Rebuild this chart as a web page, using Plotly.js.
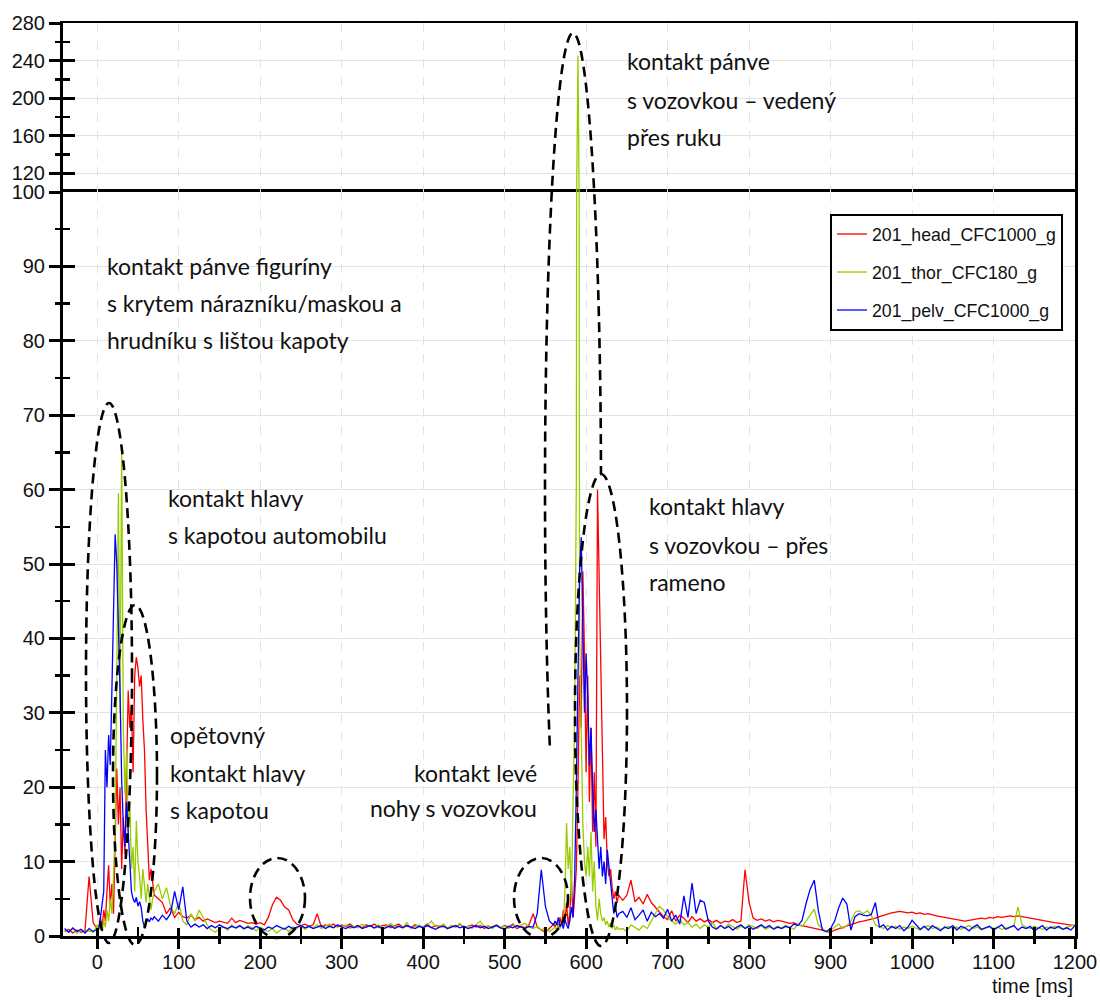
<!DOCTYPE html>
<html>
<head>
<meta charset="utf-8">
<script src="https://cdn.plot.ly/plotly-3.0.1.min.js"></script>
<style>html,body{margin:0;padding:0;background:#fff;}#chart{width:1100px;height:1001px;}</style>
</head>
<body>
<div id="chart"></div>
<script>
// ---------------- DATA ----------------
const timeMs = [
  -40,-35,-30,-25,-20,-15,-10,-5,
  0,2,4,6,8,10,12,14,16,18,
  20,22,24,26,28,30,32,34,36,38,
  40,42,44,46,48,50,52,54,56,58,
  60,62,64,66,68,70,
  75,80,85,90,95,100,105,110,115,120,
  125,130,135,140,145,150,155,160,165,170,
  175,180,185,190,195,200,205,210,215,220,
  225,230,235,240,245,250,255,260,265,270,
  275,280,285,290,295,300,305,310,315,320,
  325,330,335,340,345,350,355,360,365,370,
  375,380,385,390,395,400,405,410,415,420,
  425,430,435,440,445,450,455,460,465,470,
  475,480,485,490,495,500,505,510,515,520,
  525,530,535,540,545,550,555,560,
  562,564,566,568,570,572,574,576,578,580,
  582,584,586,588,590,592,594,596,598,600,
  602,604,606,608,610,612,614,616,618,620,
  622,624,626,628,630,632,634,636,638,640,
  645,650,655,660,665,670,675,680,685,690,
  695,700,705,710,715,720,725,730,735,740,
  745,750,755,760,765,770,775,780,785,790,
  795,800,805,810,815,820,825,830,835,840,
  845,850,855,860,865,870,875,880,885,890,
  895,900,905,910,915,920,925,930,935,940,
  945,950,955,960,965,970,975,980,985,990,
  995,1000,1005,1010,1015,1020,1025,1030,1035,1040,
  1045,1050,1055,1060,1065,1070,1075,1080,1085,1090,
  1095,1100,1105,1110,1115,1120,1125,1130,1135,1140,
  1145,1150,1155,1160,1165,1170,1175,1180,1185,1190,
  1195,1200
];

const headG = [
  0.6,0.9,0.4,0.8,0.5,0.7,8.0,1.8,
  0.9,1.2,2.5,1.0,3.5,2.0,6.0,9.5,4.0,7.0,
  3.0,12.0,22.5,15.0,20.0,9.0,16.0,11.0,24.0,33.0,
  28.0,31.0,22.0,35.0,37.5,36.0,33.5,35.0,29.0,25.0,
  17.0,11.0,7.5,9.0,7.5,5.5,
  5.0,4.5,3.0,3.8,2.5,3.2,2.6,2.4,2.8,2.2,
  2.5,2.0,2.3,2.1,1.8,2.0,1.9,1.7,2.4,1.8,
  2.1,1.9,1.7,1.8,1.6,1.8,1.5,2.5,4.2,5.2,
  4.8,3.9,3.5,2.2,1.6,1.4,1.6,1.3,1.5,3.0,
  1.2,1.5,1.3,1.6,1.2,1.5,1.3,1.6,1.2,1.4,
  1.1,1.5,1.3,1.6,1.2,1.4,1.5,1.1,1.3,1.6,
  1.2,1.4,1.1,1.5,1.3,1.2,1.6,1.1,1.4,1.3,
  1.5,1.0,1.4,1.2,1.6,1.1,1.3,1.5,1.2,1.4,
  1.0,1.3,1.2,1.5,1.1,1.4,1.2,1.6,1.0,1.3,
  1.1,1.5,3.0,1.2,0.8,0.5,1.0,1.6,
  1.2,1.8,1.0,2.5,1.4,3.5,2.0,4.5,1.5,3.0,
  7.5,2.5,5.5,9.0,20.0,35.0,28.0,49.0,38.0,22.0,
  35.0,18.0,28.0,14.0,22.0,12.0,60.0,48.0,34.0,22.0,
  13.0,16.0,10.0,8.0,9.0,6.5,5.0,6.0,4.5,5.5,
  4.8,5.5,7.5,4.6,5.2,4.3,5.6,4.5,3.9,3.2,
  2.6,2.2,3.4,2.0,2.8,2.4,1.8,2.6,2.0,2.3,
  1.9,2.2,1.8,2.1,1.7,2.0,1.9,2.2,1.8,2.0,
  8.9,4.5,2.4,2.1,2.3,2.0,2.2,1.9,2.1,2.0,
  1.9,1.7,1.8,1.5,1.4,1.3,1.1,1.0,0.9,0.8,
  0.6,0.5,0.8,1.0,1.2,1.3,1.5,1.7,1.9,2.0,
  2.1,2.2,2.4,2.6,2.8,3.0,3.1,3.2,3.3,3.2,
  3.1,3.2,3.0,3.1,2.9,3.0,2.8,2.7,2.6,2.5,
  2.4,2.3,2.2,2.1,2.0,2.1,2.2,2.3,2.4,2.3,
  2.5,2.4,2.6,2.5,2.6,2.7,2.6,2.7,2.6,2.5,
  2.4,2.4,2.3,2.1,2.0,1.9,1.8,1.7,1.6,1.5,
  1.5,1.4
];

const thorG = [
  0.8,0.5,1.0,0.4,0.9,0.6,0.7,0.5,
  1.5,0.8,1.5,0.6,2.0,1.2,3.5,2.0,5.0,3.0,
  8.0,14.0,35.0,59.5,30.0,65.5,28.0,19.0,25.0,14.0,
  18.0,9.0,12.0,6.0,15.5,10.0,8.0,5.0,9.0,6.5,
  4.5,7.0,5.5,3.5,5.0,6.0,
  7.0,5.0,6.5,4.0,3.0,4.5,2.0,1.5,3.0,2.0,
  3.5,2.5,1.5,0.8,0.5,1.0,1.2,0.8,1.5,1.0,
  1.3,0.9,1.4,1.1,0.7,1.2,0.9,0.6,1.0,0.4,
  0.8,1.1,0.6,1.2,1.0,1.4,0.9,1.3,1.1,1.5,
  1.0,1.3,1.6,1.1,1.4,1.2,1.5,1.0,1.3,1.1,
  1.6,1.2,1.4,1.0,1.5,1.1,1.3,1.7,1.2,1.4,
  1.1,1.8,1.0,1.3,1.5,1.2,1.4,2.0,1.3,1.2,
  1.6,1.0,1.4,1.2,1.7,1.1,1.3,1.0,1.5,2.0,
  1.2,1.4,1.0,1.5,1.1,1.3,1.0,1.4,1.2,1.5,
  1.7,1.2,1.0,1.3,0.8,1.1,0.6,1.0,
  1.2,0.8,1.5,1.0,2.0,1.2,6.0,15.2,9.0,12.0,
  5.0,18.0,30.0,61.0,245.0,40.0,25.0,15.0,10.0,8.0,
  12.0,8.0,14.0,6.0,10.0,4.0,2.1,5.0,3.0,2.0,
  2.5,1.5,2.0,1.2,1.8,1.0,1.5,0.8,1.2,0.9,
  1.0,0.6,1.5,1.2,0.8,1.4,1.0,2.0,3.0,4.0,
  3.5,2.5,2.0,1.6,2.2,1.5,1.8,1.2,1.6,1.0,
  1.5,1.2,1.8,1.0,1.4,1.1,1.6,1.2,0.9,1.3,
  1.1,1.5,1.2,1.0,1.4,0.9,1.2,1.0,1.3,1.1,
  1.4,1.2,0.9,1.6,1.3,2.0,2.8,3.6,1.5,1.0,
  0.5,0.8,1.2,1.6,1.0,1.4,2.0,3.2,3.4,3.0,
  3.4,2.8,1.5,1.2,1.0,1.4,1.1,1.3,0.9,1.2,
  1.0,1.3,1.1,0.8,1.2,1.4,1.0,1.2,0.9,1.1,
  1.3,1.0,1.2,0.9,1.1,1.4,1.0,1.2,0.8,1.1,
  1.3,1.0,1.2,0.9,1.1,1.2,1.4,3.9,1.5,1.2,
  1.0,1.3,1.1,0.9,1.2,1.0,1.3,1.1,0.9,1.2,
  1.3,1.5
];

const pelvG = [
  1.0,0.5,1.1,0.6,0.9,0.4,1.0,0.6,
  0.9,1.0,2.5,4.0,6.0,25.0,20.0,27.0,23.0,33.0,
  45.0,54.0,50.0,42.0,33.0,21.0,15.0,12.0,18.0,14.0,
  9.0,6.0,5.0,4.5,5.2,4.0,4.6,3.8,2.0,1.2,
  1.8,2.3,1.9,2.4,2.2,2.6,
  2.0,2.8,2.2,3.0,6.0,3.5,6.6,2.0,1.2,1.6,
  1.2,1.5,1.0,1.4,1.1,1.5,1.2,1.0,1.3,1.1,
  1.4,1.0,1.2,0.9,1.3,1.1,0.8,1.2,1.0,1.4,
  1.1,0.9,1.3,1.0,1.2,1.4,1.1,1.3,1.0,1.2,
  1.4,1.0,1.3,1.1,1.5,1.2,1.0,1.3,1.1,1.4,
  1.0,1.2,1.4,1.1,1.3,0.9,1.2,1.4,1.0,1.3,
  1.1,1.4,1.2,1.0,1.3,1.1,1.4,1.2,0.9,1.2,
  1.3,1.0,1.2,1.4,1.1,1.3,1.0,1.2,1.4,1.1,
  1.3,1.0,1.2,1.4,1.1,0.9,1.3,1.1,1.4,1.2,
  1.0,1.3,1.2,3.0,8.9,4.0,2.0,1.5,
  2.0,1.5,2.5,1.2,1.8,1.0,2.2,1.5,1.0,2.0,
  3.9,2.5,8.0,20.0,35.0,49.0,53.6,42.0,30.0,38.0,
  32.0,23.0,28.0,20.0,14.0,17.0,13.0,9.0,12.0,8.0,
  10.0,7.0,11.6,9.0,6.6,5.0,3.0,4.0,2.5,3.0,
  3.3,2.5,3.8,2.2,2.8,3.5,2.0,3.2,2.6,3.0,
  2.4,3.6,2.0,2.8,1.6,5.4,2.5,7.1,3.0,4.8,
  4.5,2.0,1.2,0.9,1.4,1.0,1.3,0.8,1.2,1.5,
  1.0,1.3,0.9,1.2,1.5,1.1,1.4,0.9,1.2,1.0,
  1.3,1.1,1.6,1.4,2.1,4.4,6.3,7.5,3.4,0.8,
  0.6,1.0,2.0,3.8,5.1,4.3,0.8,2.6,3.0,2.8,
  2.7,2.9,4.5,1.2,1.5,0.8,1.3,1.0,1.4,0.7,
  1.2,2.1,1.5,0.9,1.3,0.8,1.4,1.1,0.7,1.2,
  1.0,1.4,0.8,1.3,1.1,0.7,1.2,1.5,0.9,1.1,
  1.3,0.8,1.2,1.5,0.9,1.1,1.4,0.8,1.2,1.0,
  1.3,0.7,1.1,1.4,0.8,1.2,1.0,1.3,0.9,1.1,
  0.8,1.4
];

const seriesNames = ['201_head_CFC1000_g', '201_thor_CFC180_g', '201_pelv_CFC1000_g'];
const lowerTicks = [0,10,20,30,40,50,60,70,80,90,100];
const upperTicks = [120,160,200,240,280];

// ---------------- LAYOUT HELPERS ----------------
const PL = 63, PR = 1075, PT = 23, PB = 936, SPLIT = 192;
const fx = px => (px - PL) / (PR - PL);
const fy = py => (PB - py) / (PB - PT);
const splitFrac = fy(SPLIT);

const colors = ['#ff0000', '#99cc00', '#0000ff'];
const seriesData = [headG, thorG, pelvG];
const tickFont = {family: 'Liberation Sans, Arial, sans-serif', size: 20, color: '#111'};
const textFont = {family: 'Lato, Carlito, sans-serif', size: 23, color: '#111'};

const traces = [];
seriesData.forEach((vals, i) => {
  traces.push({x: timeMs, y: vals, type: 'scatter', mode: 'lines', name: seriesNames[i],
    line: {color: colors[i], width: 1.3}, xaxis: 'x', yaxis: 'y', legendgroup: 'g' + i, hoverinfo: 'skip'});
});
seriesData.forEach((vals, i) => {
  traces.push({x: timeMs, y: vals, type: 'scatter', mode: 'lines', name: seriesNames[i],
    line: {color: colors[i], width: 1.3}, xaxis: 'x2', yaxis: 'y2', legendgroup: 'g' + i,
    showlegend: false, hoverinfo: 'skip'});
});
// dummy traces for overlay axes carrying the extra parts of the crossing ticks
traces.push({x: [], y: [], xaxis: 'x3', yaxis: 'y', showlegend: false, hoverinfo: 'skip', mode: 'lines'});
traces.push({x: [], y: [], xaxis: 'x4', yaxis: 'y', showlegend: false, hoverinfo: 'skip', mode: 'lines'});
traces.push({x: [], y: [], xaxis: 'x', yaxis: 'y3', showlegend: false, hoverinfo: 'skip', mode: 'lines'});
traces.push({x: [], y: [], xaxis: 'x2', yaxis: 'y4', showlegend: false, hoverinfo: 'skip', mode: 'lines'});

// dashed ellipses
const dashLine = {color: '#000', width: 2.6, dash: '10px,6px'};
function ellipse(cx, cy, rx, ry) {
  return {type: 'circle', xref: 'paper', yref: 'paper',
    x0: fx(cx - rx), x1: fx(cx + rx), y0: fy(cy + ry), y1: fy(cy - ry), line: dashLine};
}
function arcPath(cx, cy, rx, ry, a0, a1) {
  let d = '';
  for (let a = a0; a <= a1; a += 2) {
    const r = a * Math.PI / 180;
    const X = fx(cx + rx * Math.sin(r)), Y = fy(cy - ry * Math.cos(r));
    d += (d ? ' L ' : 'M ') + X.toFixed(5) + ',' + Y.toFixed(5);
  }
  return {type: 'path', xref: 'paper', yref: 'paper', path: d, line: dashLine};
}
const shapes = [
  ellipse(109, 673, 23, 270),
  ellipse(135, 775, 22, 170),
  ellipse(277.5, 898, 27.5, 40),
  ellipse(541, 898, 27, 40),
  ellipse(601, 710, 26, 236),
  arcPath(573, 490, 28, 457, -124, 88)
];

function textLines(lines, px, pys, anchor) {
  return lines.map((t, k) => ({text: t, xref: 'paper', yref: 'paper', x: fx(px), y: fy(pys[k]),
    xanchor: anchor, yanchor: 'middle', showarrow: false, font: textFont}));
}
const annotations = [].concat(
  textLines(['kontakt pánve figuríny', 's krytem nárazníku/maskou a', 'hrudníku s lištou kapoty'], 105, [266, 303, 340], 'left'),
  textLines(['kontakt hlavy', 's kapotou automobilu'], 166, [498, 535], 'left'),
  textLines(['opětovný', 'kontakt hlavy', 's kapotou'], 168, [735, 773, 810], 'left'),
  textLines(['kontakt levé', 'nohy s vozovkou'], 539, [773, 808], 'right'),
  textLines(['kontakt pánve', 's vozovkou – vedený', 'přes ruku'], 625, [61, 100, 137], 'left'),
  textLines(['kontakt hlavy', 's vozovkou – přes', 'rameno'], 647, [506, 545, 582], 'left'),
  [{text: 'time [ms]', xref: 'paper', yref: 'paper', x: 1, y: fy(986), xanchor: 'right', yanchor: 'middle',
    showarrow: false, font: tickFont}]
);

const gridC = '#e3e3e3';
const layout = {
  width: 1100, height: 1001,
  margin: {l: PL, r: 1100 - PR, t: PT, b: 1001 - PB},
  paper_bgcolor: '#fff', plot_bgcolor: '#fff',
  showlegend: true,
  legend: {x: fx(1063), xanchor: 'right', y: fy(214), yanchor: 'top', bgcolor: '#fff',
    bordercolor: '#000', borderwidth: 2, font: {family: 'Liberation Sans, Arial, sans-serif', size: 17.7, color: '#111'},
    traceorder: 'grouped', tracegroupgap: 12},
  xaxis: {domain: [0, 1], anchor: 'y', range: [-42, 1200], tickmode: 'linear', tick0: 0, dtick: 100,
    ticks: 'outside', ticklen: 6, tickwidth: 3, tickcolor: '#000', tickfont: tickFont,
    minor: {dtick: 50, ticks: 'outside', ticklen: 5, tickwidth: 2.5, tickcolor: '#000', showgrid: false},
    showline: true, linewidth: 3, linecolor: '#000', mirror: true,
    showgrid: true, gridcolor: gridC, griddash: 'dash', gridwidth: 1, zeroline: false},
  xaxis2: {domain: [0, 1], anchor: 'y2', side: 'top', matches: 'x', range: [-42, 1200], tickmode: 'linear', tick0: 0, dtick: 100,
    showticklabels: false, ticks: '', showline: true, linewidth: 2.5, linecolor: '#000', mirror: false,
    showgrid: true, gridcolor: gridC, griddash: 'dash', gridwidth: 1, zeroline: false},
  xaxis3: {overlaying: 'x', anchor: 'y', side: 'bottom', range: [-42, 1200], tickmode: 'linear', tick0: 0, dtick: 100,
    ticks: 'inside', ticklen: 8, tickwidth: 3, tickcolor: '#000', showticklabels: false,
    minor: {dtick: 50, ticks: 'inside', ticklen: 9, tickwidth: 2.5, tickcolor: '#000', showgrid: false},
    showline: false, showgrid: false, zeroline: false},
  xaxis4: {overlaying: 'x', anchor: 'y', side: 'bottom', range: [-42, 1200], tickmode: 'linear', tick0: 0, dtick: 100,
    ticks: 'outside', ticklen: 12, tickwidth: 3, tickcolor: '#000', showticklabels: false,
    showline: false, showgrid: false, zeroline: false},
  yaxis: {domain: [0, splitFrac], anchor: 'x', range: [0, 100], tickmode: 'array', tickvals: lowerTicks,
    ticks: 'outside', ticklen: 11, tickwidth: 3, tickcolor: '#000', tickfont: tickFont,
    minor: {tickmode: 'linear', tick0: 0, dtick: 5, ticks: 'outside', ticklen: 5, tickwidth: 2.5, tickcolor: '#000', showgrid: false},
    showline: true, linewidth: 3, linecolor: '#000', mirror: true,
    showgrid: true, gridcolor: gridC, gridwidth: 1, zeroline: false},
  yaxis2: {domain: [splitFrac, 1], anchor: 'x2', range: [100, 280], tickmode: 'array', tickvals: upperTicks,
    ticks: 'outside', ticklen: 11, tickwidth: 3, tickcolor: '#000', tickfont: tickFont,
    minor: {tickmode: 'linear', tick0: 100, dtick: 20, ticks: 'outside', ticklen: 5, tickwidth: 2.5, tickcolor: '#000', showgrid: false},
    showline: true, linewidth: 3, linecolor: '#000', mirror: true,
    showgrid: true, gridcolor: gridC, gridwidth: 1, zeroline: false},
  yaxis3: {overlaying: 'y', anchor: 'x', side: 'left', range: [0, 100], tickmode: 'array', tickvals: lowerTicks,
    ticks: 'inside', ticklen: 12, tickwidth: 3, tickcolor: '#000', showticklabels: false,
    minor: {tickmode: 'linear', tick0: 0, dtick: 5, ticks: 'inside', ticklen: 7, tickwidth: 2.5, tickcolor: '#000', showgrid: false},
    showline: false, showgrid: false, zeroline: false},
  yaxis4: {overlaying: 'y2', anchor: 'x2', side: 'left', range: [100, 280], tickmode: 'array', tickvals: upperTicks,
    ticks: 'inside', ticklen: 12, tickwidth: 3, tickcolor: '#000', showticklabels: false,
    minor: {tickmode: 'linear', tick0: 100, dtick: 20, ticks: 'inside', ticklen: 7, tickwidth: 2.5, tickcolor: '#000', showgrid: false},
    showline: false, showgrid: false, zeroline: false},
  shapes: shapes,
  annotations: annotations
};

Plotly.newPlot('chart', traces, layout, {displayModeBar: false, staticPlot: true});
</script>
</body>
</html>
